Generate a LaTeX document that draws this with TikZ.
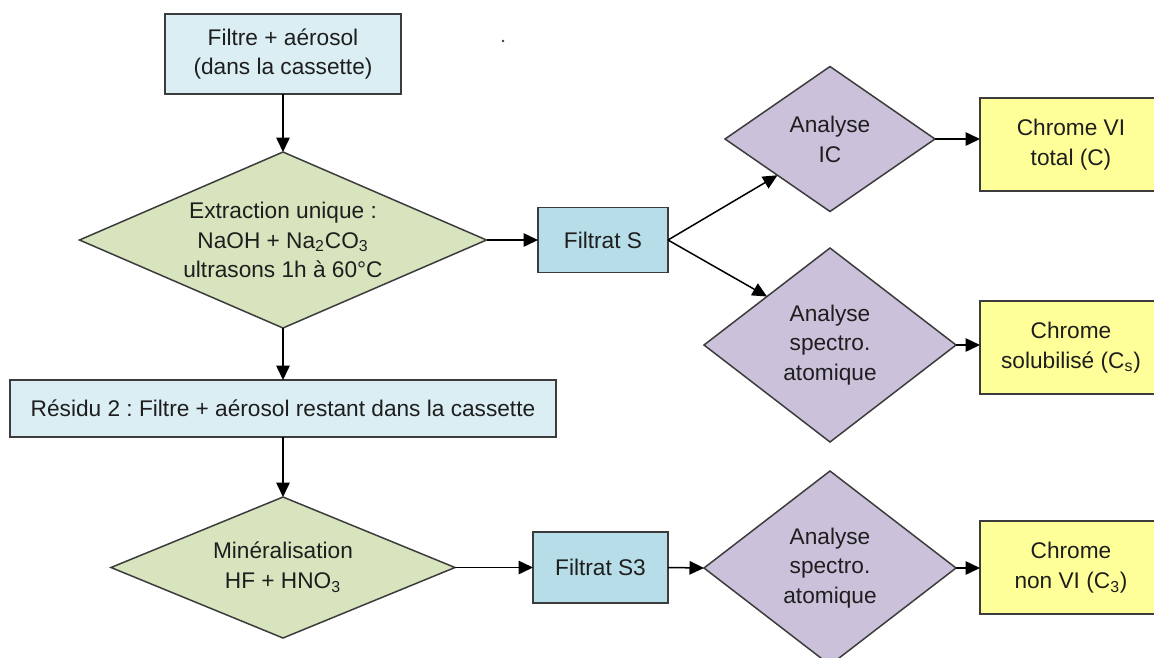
\documentclass[tikz,border=0pt]{standalone}
\usepackage{fontspec}
\setmainfont{Liberation Sans}
\usetikzlibrary{shapes.geometric,arrows.meta}
\definecolor{bleuclair}{HTML}{DBEEF4}
\definecolor{bleufiltrat}{HTML}{B7DEE8}
\definecolor{vert}{HTML}{D7E4BD}
\definecolor{violet}{HTML}{CCC1DA}
\definecolor{jaune}{HTML}{FFFF99}
\definecolor{trait}{HTML}{3C3C3C}
\definecolor{texte}{HTML}{1E1E1E}
\frenchspacing

\begin{document}
\begin{tikzpicture}[x=0.02cm, y=-0.02cm,
  font=\fontsize{12.9pt}{17pt}\selectfont,
  bord/.style={draw=trait, line width=0.03cm, inner sep=0pt, outer sep=0pt, align=center, text=texte},
  boite/.style={bord, rectangle},
  losange/.style={bord, diamond},
  fleche/.style={line width=0.03cm, -{Triangle[length=0.29cm,width=0.27cm]}}]
  \def\pix{0.02cm}   % one pixel of the sheet
  \useasboundingbox (0,0) rectangle (1154,657);
  \clip (0,0) rectangle (1154,657);
  \fill[trait] (503,41) circle (0.8pt);
  % left column
  \node[boite, fill=bleuclair, minimum width=236*\pix, minimum height=80*\pix] (top) at (283,54) {Filtre + aérosol\\(dans la cassette)};
  \node[losange, fill=vert, aspect=2.31, minimum width=407*\pix, minimum height=176*\pix] (ext) at (283,240) {Extraction unique :\\NaOH + Na\textsubscript{2}CO\textsubscript{3}\\ultrasons 1h à 60°C};
  \node[boite, fill=bleuclair, minimum width=546*\pix, minimum height=57*\pix] (res) at (283,408.5) {Résidu 2 : Filtre + aérosol restant dans la cassette};
  \node[losange, fill=vert, aspect=2.44, minimum width=344*\pix, minimum height=141*\pix] (min) at (283,567.5) {Minéralisation\\HF + HNO\textsubscript{3}};
  % filtrats
  \node[boite, fill=bleufiltrat, minimum width=130*\pix, minimum height=65*\pix] (fs) at (603,240) {Filtrat S};
  \node[boite, fill=bleufiltrat, minimum width=135*\pix, minimum height=71*\pix] (fs3) at (600.5,567.5) {Filtrat S3};
  % analyses
  \node[losange, fill=violet, aspect=1.45, minimum width=210*\pix, minimum height=145*\pix] (ic) at (830,139) {Analyse\\IC};
  \foreach \n/\y in {sp1/345, sp2/568} {
    \node[losange, fill=violet, aspect=1.3, minimum width=252*\pix, minimum height=194*\pix] (\n) at (830,\y) {Analyse\\spectro.\\atomique};
  }
  % results
  \node[boite, fill=jaune, minimum width=182*\pix, minimum height=93*\pix] (cvi) at (1071,144.5) {Chrome VI\\total (C)};
  \node[boite, fill=jaune, minimum width=182*\pix, minimum height=93*\pix] (csol) at (1071,347.5) {Chrome\\solubilisé (C\textsubscript{s})};
  \node[boite, fill=jaune, minimum width=182*\pix, minimum height=93*\pix] (cnon) at (1071,567.5) {Chrome\\non VI (C\textsubscript{3})};
  % arrows
  \foreach \a/\b in {top/ext, ext/res, res/min} { \draw[fleche] (\a.south) -- (\b.north); }
  \foreach \a/\b in {ext/fs, min/fs3, fs3/sp2} { \draw[fleche] (\a.east) -- (\b.west); }
  \foreach \a/\b in {ic/cvi, sp1/csol, sp2/cnon} { \draw[fleche] (\a.east) -- (\a.east -| \b.west); }
  \draw[fleche] (fs.east) -- (ic.south west);
  \draw[fleche] (fs.east) -- (sp1.north west);
\end{tikzpicture}
\end{document}
